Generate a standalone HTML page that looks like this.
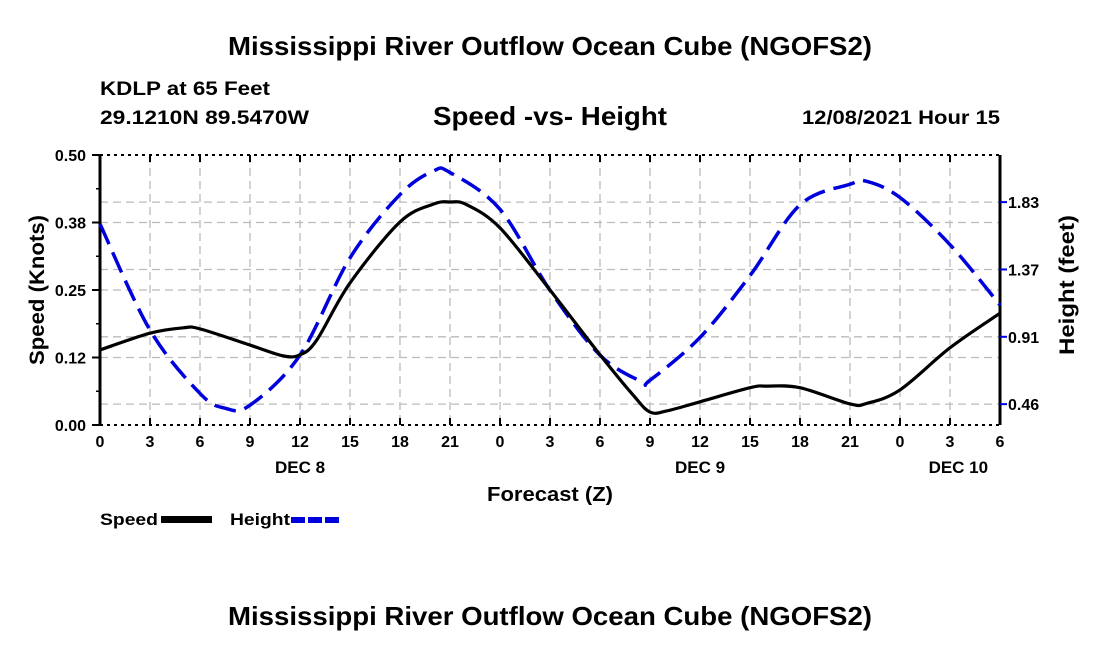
<!DOCTYPE html>
<html><head><meta charset="utf-8"><style>
html,body{margin:0;padding:0;background:#fff;width:1100px;height:650px;overflow:hidden}
svg text{font-family:"Liberation Sans",sans-serif;font-weight:bold;fill:#000}
</style></head><body>
<svg id="c" width="1100" height="650">
<text x="228" y="55" font-size="26" textLength="644" lengthAdjust="spacingAndGlyphs">Mississippi River Outflow Ocean Cube (NGOFS2)</text>
<text x="100" y="95" font-size="19" textLength="170" lengthAdjust="spacingAndGlyphs">KDLP at 65 Feet</text>
<text x="100" y="124" font-size="19" textLength="209" lengthAdjust="spacingAndGlyphs">29.1210N  89.5470W</text>
<text x="433" y="125" font-size="26" textLength="234" lengthAdjust="spacingAndGlyphs">Speed -vs- Height</text>
<text x="802" y="124" font-size="19" textLength="198" lengthAdjust="spacingAndGlyphs">12/08/2021 Hour 15</text>
<g id="grid"></g><g id="axes"></g><g id="series"></g>
<text transform="translate(44,290) rotate(-90)" text-anchor="middle" font-size="21" textLength="150" lengthAdjust="spacingAndGlyphs">Speed (Knots)</text>
<text transform="translate(1074,285) rotate(-90)" text-anchor="middle" font-size="21" textLength="140" lengthAdjust="spacingAndGlyphs">Height (feet)</text>
<text x="487" y="501" font-size="20" textLength="126" lengthAdjust="spacingAndGlyphs">Forecast (Z)</text>
<text x="100" y="525" font-size="17" textLength="58" lengthAdjust="spacingAndGlyphs">Speed</text>
<rect x="161" y="516" width="51" height="7" fill="#000"/>
<text x="230" y="525" font-size="17" textLength="60" lengthAdjust="spacingAndGlyphs">Height</text>
<line x1="291" y1="520" x2="342" y2="520" stroke="#0000dd" stroke-width="6" stroke-dasharray="14,3"/>
<text x="228" y="625" font-size="26" textLength="644" lengthAdjust="spacingAndGlyphs">Mississippi River Outflow Ocean Cube (NGOFS2)</text>
</svg>
<script>
const xTickLabels=["0","3","6","9","12","15","18","21","0","3","6","9","12","15","18","21","0","3","6"];
const dayLabels=["DEC 8","DEC 9","DEC 10"];
const dayHours=[12,36,51.5];
const speedTicks=[0,0.125,0.25,0.375,0.5];
const speedTickLabels=["0.00","0.12","0.25","0.38","0.50"];
const heightTicks=[0.4572,0.9144,1.3716,1.8288];
const heightTickLabels=["0.46","0.91","1.37","1.83"];
const speedHours=[0,3,5,6,9,11,12,13,15,18,20,21,22,24,27,30,32,33,34,36,39,40,42,45,46,48,51,54];
const speedValues=[0.139,0.170,0.180,0.178,0.148,0.128,0.130,0.157,0.263,0.376,0.409,0.413,0.408,0.365,0.250,0.130,0.055,0.024,0.026,0.043,0.069,0.072,0.069,0.039,0.040,0.065,0.143,0.207];
const heightHours=[0,3,6,7.5,9,12,15,18,20,21,24,27,30,32.5,33,36,39,42,45,46,48,51,54];
const heightValues=[1.68,0.96,0.53,0.43,0.45,0.79,1.45,1.88,2.04,2.03,1.78,1.23,0.79,0.61,0.62,0.91,1.33,1.81,1.95,1.97,1.86,1.54,1.13];
const L=100,R=1000,T=155,B=425;
const X=h=>L+(h/54)*(R-L);
const YS=s=>B-(s/0.5)*(B-T);
const YH=h=>471.5-h*147.3;
const NS="http://www.w3.org/2000/svg";
function mk(tag,attrs,parent){const e=document.createElementNS(NS,tag);for(const k in attrs)e.setAttribute(k,attrs[k]);parent.appendChild(e);return e;}
const grid=document.getElementById('grid'),axes=document.getElementById('axes'),ser=document.getElementById('series');
const gs={stroke:"#bbb","stroke-width":1.3,"stroke-dasharray":"8,5"};
for(let i=1;i<18;i++){const l=mk('line',Object.assign({x1:X(i*3),x2:X(i*3),y1:T,y2:B},gs),grid);

}
speedTicks.slice(1,-1).forEach(v=>{const l=mk('line',Object.assign({x1:L,x2:R,y1:YS(v),y2:YS(v)},gs),grid);

});
heightTicks.forEach(v=>{const l=mk('line',Object.assign({x1:L,x2:R,y1:YH(v),y2:YH(v)},gs),grid);

});
const tb={stroke:"#000","stroke-width":2,"stroke-dasharray":"3,4"};
let e=mk('line',Object.assign({x1:L,x2:R,y1:T,y2:T},tb),axes);


e=mk('line',Object.assign({x1:L,x2:R,y1:B,y2:B},tb),axes);


e=mk('line',{x1:L,x2:L,y1:T,y2:B,stroke:"#000","stroke-width":3},axes);


e=mk('line',{x1:R,x2:R,y1:T,y2:B,stroke:"#000","stroke-width":3},axes);


xTickLabels.forEach((t,i)=>{const x=X(i*3);
mk('line',{x1:x,x2:x,y1:B,y2:B-7,stroke:"#000","stroke-width":2},axes);
mk('line',{x1:x,x2:x,y1:T,y2:T+7,stroke:"#000","stroke-width":2},axes);
const tx=mk('text',{x:x,y:447,"text-anchor":"middle","font-size":16},axes);tx.textContent=t;

});
dayLabels.forEach((d,i)=>{const tx=mk('text',{x:X(dayHours[i]),y:473,"text-anchor":"middle","font-size":17},axes);tx.textContent=d;

});
speedTicks.forEach((v,i)=>{const y=YS(v);
mk('line',{x1:L-8,x2:L,y1:y,y2:y,stroke:"#000","stroke-width":2},axes);
const tx=mk('text',{x:L-14,y:y+6,"text-anchor":"end","font-size":16},axes);tx.textContent=speedTickLabels[i];


if(i<speedTicks.length-1){const m=YS(v+0.0625);mk('line',{x1:L-4,x2:L,y1:m,y2:m,stroke:"#000","stroke-width":1.5},axes);}});
heightTicks.forEach((v,i)=>{const y=YH(v);
mk('line',{x1:R,x2:R+7,y1:y,y2:y,stroke:"#0000dd","stroke-width":2},axes);
const tx=mk('text',{x:R+8,y:y+6,"font-size":16},axes);tx.textContent=heightTickLabels[i];

});
function smooth(pts){let d=`M${pts[0][0]},${pts[0][1]}`;
for(let i=0;i<pts.length-1;i++){const p0=pts[Math.max(0,i-1)],p1=pts[i],p2=pts[i+1],p3=pts[Math.min(pts.length-1,i+2)];
const c1=[p1[0]+(p2[0]-p0[0])/6,p1[1]+(p2[1]-p0[1])/6],c2=[p2[0]-(p3[0]-p1[0])/6,p2[1]-(p3[1]-p1[1])/6];
d+=` C${c1[0]},${c1[1]} ${c2[0]},${c2[1]} ${p2[0]},${p2[1]}`;}return d;}
const hp=mk('path',{d:smooth(heightHours.map((h,i)=>[X(h),YH(heightValues[i])])),fill:"none",stroke:"#0000dd","stroke-width":3.5,"stroke-dasharray":"22,9"},ser);


const sp=mk('path',{d:smooth(speedHours.map((h,i)=>[X(h),YS(speedValues[i])])),fill:"none",stroke:"#000","stroke-width":3.2},ser);


</script>
</body></html>
